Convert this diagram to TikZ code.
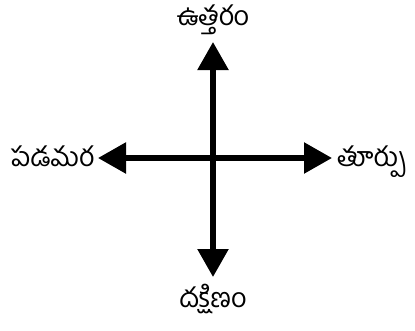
\documentclass[tikz,border=0pt]{standalone}
\usepackage{fontspec}
\usepackage{tikz}
\usetikzlibrary{arrows.meta}
\newfontfamily\telugufont[Script=Telugu]{Hind Guntur}

\begin{document}
\begin{tikzpicture}[x=1pt,y=-1pt,every node/.style={font=\telugufont\fontsize{27}{30}\selectfont,inner sep=0pt},
  dirarrow/.style={-{Triangle[length=28pt,width=30pt]},line width=5.5pt}]
  \useasboundingbox (0,0) rectangle (415,330);
  \coordinate (c) at (213,158);
  \coordinate (ntip) at (213,42);
  \coordinate (stip) at (213,277);
  \coordinate (etip) at (332,158);
  \coordinate (wtip) at (98,158);
  \draw[dirarrow] (c) -- (ntip);
  \draw[dirarrow] (c) -- (stip);
  \draw[dirarrow] (c) -- (etip);
  \draw[dirarrow] (c) -- (wtip);
  \node[anchor=base] (north) at (213,25) {ఉత్తరం};
  \node[anchor=base] (south) at (213,307) {దక్షిణం};
  \node[anchor=base west] (east) at (337,166) {తూర్పు};
  \node[anchor=base east] (west) at (94,166) {పడమర};
\end{tikzpicture}
\end{document}
